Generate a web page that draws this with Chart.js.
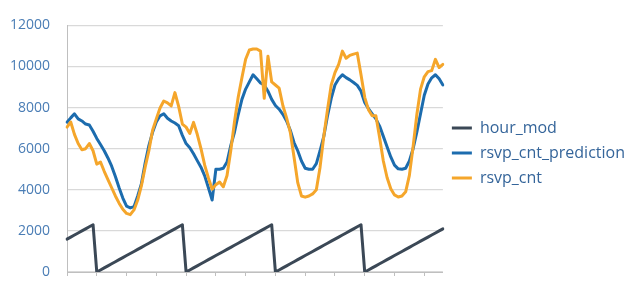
<!DOCTYPE html>
<html>
<head>
<meta charset="utf-8">
<script src="https://cdn.jsdelivr.net/npm/chart.js@4/dist/chart.umd.min.js"></script>
<style>
html,body{margin:0;padding:0;background:#fff;}
#wrap{width:640px;height:299px;}
</style>
</head>
<body>
<div id="wrap"><canvas id="c" width="640" height="299"></canvas></div>
<script>
const categories = [
  1,2,3,4,5,6,7,8,9,10,11,12,13,14,15,16,17,18,19,20,21,22,23,24,25,26,27,28,29,30,
  31,32,33,34,35,36,37,38,39,40,41,42,43,44,45,46,47,48,49,50,51,52,53,54,55,56,57,58,59,60,
  61,62,63,64,65,66,67,68,69,70,71,72,73,74,75,76,77,78,79,80,81,82,83,84,85,86,87,88,89,90,
  91,92,93,94,95,96,97,98,99,100,101,102
];

const hourMod = [
  1600,1700,1800,1900,2000,2100,2200,2300,
  0,100,200,300,400,500,600,700,800,900,1000,1100,1200,1300,1400,1500,1600,1700,1800,1900,2000,2100,2200,2300,
  0,100,200,300,400,500,600,700,800,900,1000,1100,1200,1300,1400,1500,1600,1700,1800,1900,2000,2100,2200,2300,
  0,100,200,300,400,500,600,700,800,900,1000,1100,1200,1300,1400,1500,1600,1700,1800,1900,2000,2100,2200,2300,
  0,100,200,300,400,500,600,700,800,900,1000,1100,1200,1300,1400,1500,1600,1700,1800,1900,2000,2100
];

const rsvpCntPrediction = [
  7290,7500,7700,7450,7350,7200,7150,6850,6500,6200,
  5900,5550,5150,4650,4100,3600,3200,3120,3180,3700,
  4300,5300,6150,6800,7300,7600,7700,7480,7350,7250,
  7120,6650,6250,6050,5750,5420,5100,4680,4100,3500,
  5000,5000,5050,5350,6150,6800,7650,8400,8900,9250,
  9600,9400,9200,9100,8800,8400,8100,7920,7670,7350,
  6900,6300,5900,5400,5050,5000,5000,5270,5900,6600,
  7600,8450,9100,9400,9600,9460,9350,9220,9080,8800,
  8250,7950,7700,7450,7100,6600,6100,5600,5200,5020,
  5000,5050,5400,6000,6800,7700,8600,9150,9450,9600,
  9400,9100
];

const rsvpCnt = [
  7050,7300,6700,6250,5950,6000,6250,5900,5250,5350,
  4900,4500,4100,3700,3350,3050,2850,2790,3020,3500,
  4200,5100,5900,6900,7450,7980,8320,8230,8080,8730,
  8060,7200,7050,6740,7280,6700,6000,5200,4580,4030,
  4250,4380,4150,4700,5900,7300,8500,9450,10350,10800,
  10850,10850,10750,8450,10500,9250,9100,8950,8100,7500,
  6800,5600,4350,3700,3640,3700,3800,4000,5100,6600,
  7900,9100,9700,10100,10750,10400,10540,10600,10650,9600,
  8500,7900,7600,7600,6550,5400,4600,4050,3750,3650,
  3700,3900,4700,6100,7650,8900,9500,9750,9800,10350,
  9950,10100
];

const yTicks = [0,2000,4000,6000,8000,10000,12000];
const yTickLabels = ['0','2000','4000','6000','8000','10000','12000'];

const FONT = "'Open Sans', 'DejaVu Sans', sans-serif";

new Chart(document.getElementById('c'), {
  type: 'line',
  data: {
    labels: categories,
    datasets: [
      {label:'hour_mod', data: hourMod, borderColor:'#3b4856', backgroundColor:'#3b4856',
       borderWidth:3, pointRadius:0, tension:0, order:1, borderCapStyle:'round', borderJoinStyle:'round'},
      {label:'rsvp_cnt_prediction', data: rsvpCntPrediction, borderColor:'#1c6cae', backgroundColor:'#1c6cae',
       borderWidth:3, pointRadius:0, tension:0, order:2, borderCapStyle:'round', borderJoinStyle:'round'},
      {label:'rsvp_cnt', data: rsvpCnt, borderColor:'#f5a62b', backgroundColor:'#f5a62b',
       borderWidth:3, pointRadius:0, tension:0, order:0, borderCapStyle:'round', borderJoinStyle:'round'}
    ]
  },
  options: {
    responsive:false,
    animation:false,
    devicePixelRatio:1,
    layout:{padding:{left:10,top:7,right:5,bottom:0}},
    plugins:{
      tooltip:{enabled:false},
      legend:{
        position:'right',
        maxWidth:230,
        labels:{
          usePointStyle:true, pointStyle:'line', pointStyleWidth:20,
          color:'#35659a', font:{family:FONT, size:16}, padding:9,
          sort:(a,b)=>a.datasetIndex-b.datasetIndex
        }
      }
    },
    scales:{
      x:{
        type:'category', offset:false,
        grid:{drawOnChartArea:false, tickLength:4, color:'#bfbfbf'},
        border:{color:'#bfbfbf'},
        ticks:{autoSkip:false, maxRotation:0, minRotation:0, font:{size:1},
          callback:(v,i)=> (i % 8 === 0 ? '' : null)},
        afterFit:(s)=>{ s.height = 27; }
      },
      y:{
        min:0, max:12000,
        afterBuildTicks:(s)=>{ s.ticks = yTicks.map(v=>({value:v})); },
        grid:{color:'#d9d9d9', drawTicks:false, lineWidth:1.2},
        border:{color:'#bfbfbf'},
        ticks:{color:'#4a7db5', font:{family:FONT, size:14}, padding:17,
          callback:(v,i)=> yTickLabels[i]},
        afterFit:(s)=>{ s.width = 57; }
      }
    }
  }
});
</script>
</body>
</html>
